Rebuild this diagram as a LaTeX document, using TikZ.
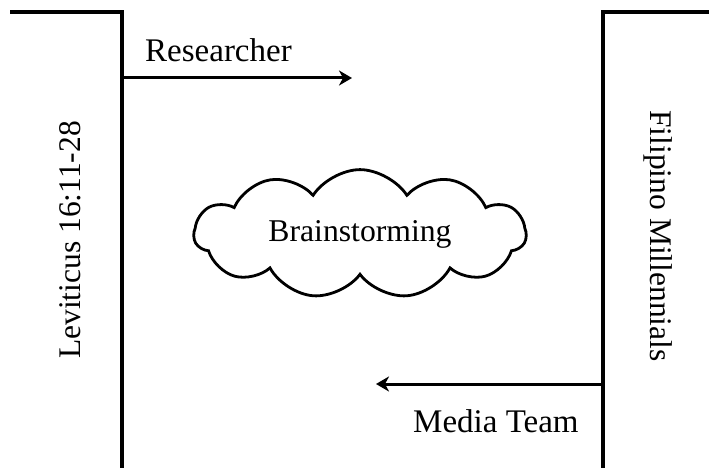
\documentclass[tikz,border=0pt]{standalone}
\usepackage{fontspec}
\setmainfont{Liberation Serif}
\usetikzlibrary{arrows.meta}
\usetikzlibrary{shapes.symbols}
\tikzset{
 sidetext/.style={inner sep=0, anchor=base, font=\fontsize{31.5}{36}\selectfont},
 flowtext/.style={inner sep=0, anchor=base west, font=\fontsize{33}{38}\selectfont},
 flowline/.style={black, line width=3pt, -{Stealth[length=13pt, width=15pt, inset=4pt]}},
 wall/.style={black, line width=3.2pt}
}
\begin{document}
\begin{tikzpicture}[x=1pt, y=-1pt]
\useasboundingbox (0,0) rectangle (709,468);
\draw[wall] (10,12) -- (122,12) -- (122,468);
\draw[wall] (709,12) -- (603,12) -- (603,468);
\node[sidetext, rotate=90] (levit) at (80,240) {Leviticus 16:11-28};
\node[sidetext, rotate=-90] (filip) at (650,236) {Filipino Millennials};
\coordinate (resStart) at (122,78);
\coordinate (resEnd) at (352,78);
\coordinate (medStart) at (603,384);
\coordinate (medEnd) at (376,384);
\draw[flowline] (resStart) -- (resEnd);
\draw[flowline] (medStart) -- (medEnd);
\node[flowtext] (resear) at (145,62) {Researcher};
\node[flowtext] (media) at (413,432) {Media Team};
\node[cloud, draw, line width=2.8pt, cloud puffs=11, cloud puff arc=115, aspect=2.8,
 minimum width=332pt, minimum height=114pt, inner sep=0,
 font=\fontsize{31.7}{36}\selectfont] (brain) at (360,234) {Brainstorming};
\end{tikzpicture}
\end{document}
